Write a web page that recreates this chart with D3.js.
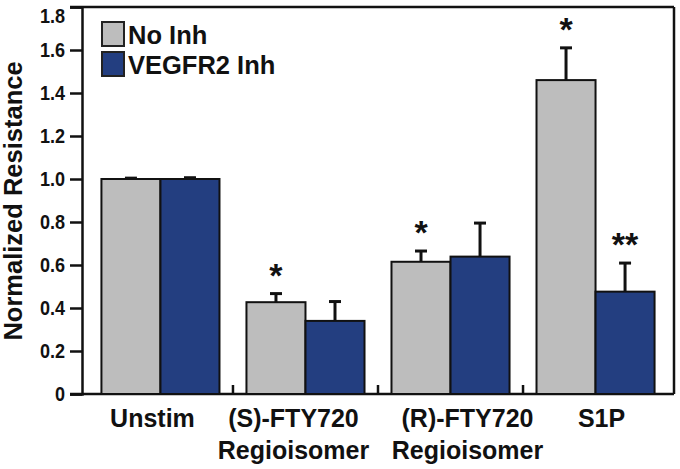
<!DOCTYPE html>
<html><head><meta charset="utf-8">
<script src="https://cdn.jsdelivr.net/npm/d3@7"></script>
<style>
html,body{margin:0;padding:0;background:#fff;}
svg text{font-family:"Liberation Sans",Arial,sans-serif;font-weight:bold;fill:#111;}
</style></head>
<body><svg id="c" width="680" height="469"></svg>
<script>
const categories = ["Unstim", "(S)-FTY720", "(R)-FTY720", "S1P"];
const categoryLine2 = ["", "Regioisomer", "Regioisomer", ""];
const seriesNames = ["No Inh", "VEGFR2 Inh"];
const noInh = [1.0, 0.427, 0.615, 1.46];
const noInhErr = [0.004, 0.04, 0.05, 0.15];
const vegfr2Inh = [1.0, 0.34, 0.639, 0.476];
const vegfr2InhErr = [0.006, 0.09, 0.156, 0.133];
const noInhSig = ["", "*", "*", "*"];
const vegfr2Sig = ["", "", "", "**"];
const yTicks = [0, 0.2, 0.4, 0.6, 0.8, 1.0, 1.2, 1.4, 1.6, 1.8];

const colors = ["#bdbdbd", "#233e80"];
const svg = d3.select("#c");
const L = 82, R = 674, T = 7, B = 394;

const y = d3.scaleLinear().domain([0, 1.8]).range([B, T]);
const x = d3.scaleBand().domain(categories).range([L, R]).paddingInner(0.186).paddingOuter(0.134);
const xs = d3.scaleBand().domain(seriesNames).range([0, x.bandwidth()]);

const series = [
  {name: seriesNames[0], vals: noInh, err: noInhErr, sig: noInhSig},
  {name: seriesNames[1], vals: vegfr2Inh, err: vegfr2InhErr, sig: vegfr2Sig}
];

// frame top & right
svg.append("line").attr("x1", 70).attr("x2", R).attr("y1", T).attr("y2", T).attr("stroke", "#111").attr("stroke-width", 2.5);
svg.append("line").attr("x1", R).attr("x2", R).attr("y1", T).attr("y2", B).attr("stroke", "#111").attr("stroke-width", 2.5);

// y axis
const yAxis = svg.append("g").attr("transform", `translate(${L},0)`)
  .call(d3.axisLeft(y).tickValues(yTicks).tickSize(12).tickPadding(7.8)
    .tickFormat(d => d === 0 ? "0" : d3.format(".1f")(d)));
yAxis.select(".domain").attr("stroke", "#111").attr("stroke-width", 2.5);
yAxis.selectAll(".tick line").attr("stroke", "#111").attr("stroke-width", 2.5);
yAxis.selectAll(".tick text")
  .attr("font-family", "'Liberation Sans',Arial,sans-serif")
  .attr("font-size", 21).attr("font-weight", "bold").attr("fill", "#111")
  .attr("transform", d => `scale(0.86,1)` + (d === 1.8 ? " translate(0,9)" : ""));

// x axis baseline
svg.append("line").attr("x1", 70).attr("x2", R).attr("y1", B).attr("y2", B).attr("stroke", "#111").attr("stroke-width", 2.5);
// separator ticks
const step = x.step();
categories.slice(1).forEach(c => {
  const sx = x(c) - (step - x.bandwidth()) / 2;
  svg.append("line").attr("x1", sx).attr("x2", sx).attr("y1", B).attr("y2", B - 9).attr("stroke", "#111").attr("stroke-width", 2.5);
});

// bars
series.forEach((s, si) => {
  const g = svg.append("g");
  categories.forEach((c, i) => {
    const bx = x(c) + xs(s.name);
    const bw = xs.bandwidth();
    const cx = bx + bw / 2;
    const top = y(s.vals[i]);
    const cap = y(s.vals[i] + s.err[i]);
    g.append("line").attr("x1", cx).attr("x2", cx).attr("y1", top).attr("y2", cap).attr("stroke", "#111").attr("stroke-width", 3);
    g.append("line").attr("x1", cx - 6).attr("x2", cx + 6).attr("y1", cap).attr("y2", cap).attr("stroke", "#111").attr("stroke-width", 3);
    g.append("rect").attr("x", bx).attr("y", top).attr("width", bw).attr("height", B - top)
      .attr("fill", colors[si]).attr("stroke", "#111").attr("stroke-width", 2);
    if (s.sig[i]) {
      g.append("text").attr("x", cx).attr("y", cap - 7).attr("text-anchor", "middle")
        .attr("font-size", 34).text(s.sig[i]);
    }
  });
});

// x labels
const labelShift = [-8, -12, 17, 6];
categories.forEach((c, i) => {
  const cx = x(c) + x.bandwidth() / 2 + labelShift[i];
  svg.append("text").attr("x", cx).attr("y", 427).attr("text-anchor", "middle").attr("font-size", 25).text(c);
  if (categoryLine2[i]) svg.append("text").attr("x", cx).attr("y", 459).attr("text-anchor", "middle").attr("font-size", 25).text(categoryLine2[i]);
});

// y title
svg.append("text").attr("transform", "translate(22,201) rotate(-90)").attr("text-anchor", "middle")
  .attr("font-size", 25.5).text("Normalized Resistance");

// legend
series.forEach((s, si) => {
  const ly = 22 + si * 30;
  svg.append("rect").attr("x", 102).attr("y", ly).attr("width", 22).attr("height", 24)
    .attr("fill", colors[si]).attr("stroke", "#222").attr("stroke-width", 2);
  svg.append("text").attr("x", 128).attr("y", ly + 22).attr("font-size", 25.5).text(s.name);
});
</script></body></html>
